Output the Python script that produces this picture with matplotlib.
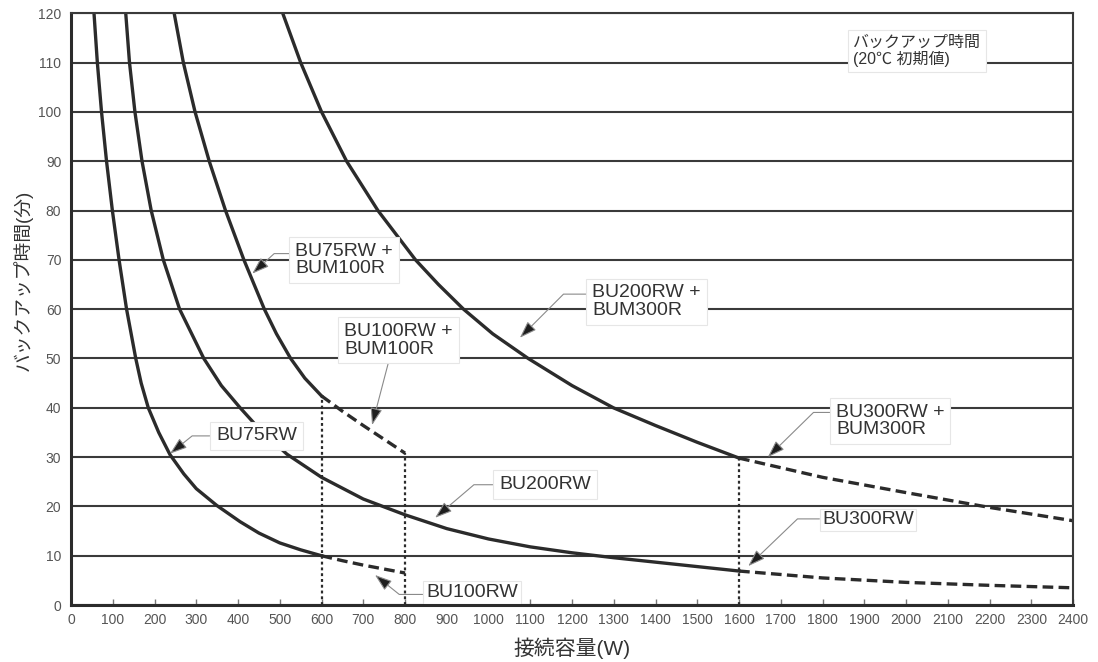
import matplotlib
matplotlib.use('Agg')
import matplotlib.pyplot as plt

plt.rcParams['font.family'] = ['Liberation Sans', 'Noto Sans CJK JP', 'DejaVu Sans']

# BU75RW (solid) continued by BU100RW (dashed)
a_w = [55, 63, 73, 85, 99, 115, 133, 155, 168, 185, 210, 237, 270, 300, 349, 405, 450, 500, 550, 600]
a_t = [120, 110, 100, 90, 80, 70, 60, 50, 45, 40, 35, 30.5, 26.6, 23.6, 20.2, 16.9, 14.6, 12.6, 11.2, 10.0]
a_dash_w = [600, 650, 700, 750, 800]
a_dash_t = [10.0, 9.0, 8.1, 7.3, 6.5]

# BU200RW (solid) continued by BU300RW (dashed)
b_w = [131, 140, 153, 170, 192, 221, 260, 318, 360, 405, 450, 517, 600, 700, 800, 900,
       1000, 1100, 1200, 1300, 1400, 1500, 1600]
b_t = [120, 110, 100, 90, 80, 70, 60, 50, 44.5, 40, 35.8, 30.6, 25.9, 21.5, 18.3, 15.5,
       13.4, 11.8, 10.6, 9.6, 8.7, 7.8, 6.9]
b_dash_w = [1600, 1800, 2000, 2200, 2400]
b_dash_t = [6.9, 5.5, 4.6, 4.0, 3.5]

# BU75RW + BUM100R (solid) continued by BU100RW + BUM100R (dashed)
c_w = [247, 269, 297, 331, 370, 414, 463, 492, 526, 560, 600]
c_t = [120, 110, 100, 90, 80, 70, 60, 55, 50, 46.0, 42.4]
c_dash_w = [600, 650, 700, 750, 800]
c_dash_t = [42.4, 39.3, 36.4, 33.6, 30.8]

# BU200RW + BUM300R (solid) continued by BU300RW + BUM300R (dashed)
d_w = [507, 550, 600, 660, 735, 825, 880, 940, 1010, 1095, 1200, 1299, 1400, 1500, 1600]
d_t = [120, 110, 100, 90, 80, 70, 65, 60, 55, 50, 44.5, 40, 36.4, 33.0, 29.8]
d_dash_w = [1600, 1800, 2000, 2200, 2400]
d_dash_t = [29.8, 25.9, 22.8, 19.8, 17.1]

# capacity limits (dotted drop lines)
drop_w = [600, 800, 1600]
drop_t = [42.4, 30.8, 29.8]

# labels: text, arrow tip, text position (left / middle)
labels = ['BU75RW', 'BU100RW', 'BU200RW', 'BU300RW',
          'BU75RW +\nBUM100R', 'BU100RW +\nBUM100R', 'BU200RW +\nBUM300R', 'BU300RW +\nBUM300R']
tip_w = [237, 728, 872, 1622, 434, 721, 1075, 1669]
tip_t = [30.7, 6.1, 17.7, 7.9, 67.2, 36.5, 54.2, 30.0]
txt_w = [347, 850, 1025, 1799, 537, 654, 1248, 1832]
txt_t = [34.3, 2.5, 24.4, 17.3, 70.0, 53.7, 61.5, 37.3]
leader_ang = [38.7, -38.7, 40.4, 43.8, 42.4, None, 45.0, 44.4]
leader_rel = [(0, 0.5), (0, 0.4), (0, 0.5), (0, 0.55), (0, 0.68), (0.42, 0), (0, 0.72), (0, 0.75)]
box_pad = [0.3, 0.15, 0.3, 0.12, 0.3, 0.3, 0.3, 0.3]

ink = '#2b2b2b'
grid_c = '#3a3a3a'
dash = (0, (3.2, 1.6))

fig = plt.figure(figsize=(10.98, 6.62), dpi=100)
ax = fig.add_axes([0.0647, 0.0860, 0.9126, 0.8940])

for xs, ys, ls in [(a_w, a_t, '-'), (a_dash_w, a_dash_t, dash),
                   (b_w, b_t, '-'), (b_dash_w, b_dash_t, dash),
                   (c_w, c_t, '-'), (c_dash_w, c_dash_t, dash),
                   (d_w, d_t, '-'), (d_dash_w, d_dash_t, dash)]:
    ax.plot(xs, ys, color=ink, lw=2.4, linestyle=ls, solid_joinstyle='round',
            dash_capstyle='butt', zorder=3)

ax.vlines(drop_w, 0, drop_t, colors=ink, lw=1.6, linestyles=(0, (1.3, 1.3)), zorder=3)

for i in range(len(labels)):
    if leader_ang[i] is None:
        conn = 'arc3,rad=0'
    else:
        conn = 'angle,angleA=0,angleB=%s,rad=0' % leader_ang[i]
    ax.annotate(labels[i], xy=(tip_w[i], tip_t[i]), xytext=(txt_w[i], txt_t[i]),
                ha='left', va='center', fontsize=14, color='#333333', linespacing=1.05,
                bbox=dict(boxstyle='square,pad=%s' % box_pad[i], fc='white', ec='#e6e6e6', lw=0.8),
                arrowprops=dict(arrowstyle='-|>,head_length=0.75,head_width=0.26',
                                connectionstyle=conn, relpos=leader_rel[i],
                                fc='#1e1e1e', ec='#8a8a8a', lw=0.8, shrinkA=0, shrinkB=0),
                zorder=5)

ax.text(1873, 112.3, 'バックアップ時間\n(20℃ 初期値)', ha='left', va='center',
        fontsize=11.5, color='#333333', linespacing=1.1, zorder=5,
        bbox=dict(boxstyle='square,pad=0.3', fc='white', ec='#e6e6e6', lw=0.8))

ax.set_xlim(0, 2400)
ax.set_ylim(0, 120)
ax.set_xticks(range(0, 2401, 100))
ax.set_yticks(range(0, 121, 10))
ax.yaxis.grid(True, color=grid_c, lw=1.5, zorder=1)
ax.set_axisbelow(True)

ax.tick_params(axis='x', direction='in', length=4, width=1, color='#777777',
               labelsize=10, labelcolor='#555555', pad=6)
ax.tick_params(axis='y', length=0, labelsize=10, labelcolor='#555555', pad=7)

for side in ['left', 'bottom']:
    ax.spines[side].set_linewidth(2.2)
    ax.spines[side].set_color(ink)
    ax.spines[side].set_zorder(6)
for side in ['right', 'top']:
    ax.spines[side].set_linewidth(1.5)
    ax.spines[side].set_color(grid_c)
    ax.spines[side].set_zorder(6)

ax.set_xlabel('接続容量(W)', fontsize=15, color='#333333', labelpad=7)
ax.set_ylabel('バックアップ時間(分)', fontsize=13.5, color='#333333')
ax.yaxis.set_label_coords(-0.038, 0.549)

fig.savefig('out.png', dpi=100)
